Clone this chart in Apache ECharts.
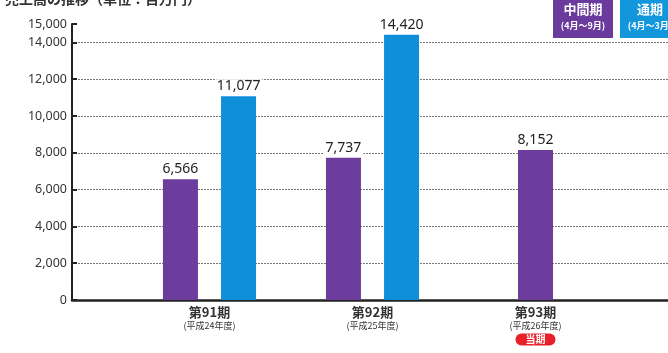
<!DOCTYPE html>
<html><head><meta charset="utf-8">
<style>html,body{margin:0;padding:0;background:#fff}#c{width:668px;height:353px}</style>
<script src="https://cdn.jsdelivr.net/npm/echarts@6/dist/echarts.min.js"></script>
</head><body><div id="c"></div>
<script>
const categories = ['第91期', '第92期', '第93期'];
const fiscalYears = ['(平成24年度)', '(平成25年度)', '(平成26年度)'];
const interimValues = [6566, 7737, null];
const fullYearValues = [11077, 14420, null];
const currentInterim = [null, null, 8152];
const yTicks = [0, 2000, 4000, 6000, 8000, 10000, 12000, 14000, 15000];

const PURPLE = '#6c3d9c';
const BLUE = '#0f8fd9';
const FONT = '"Noto Sans CJK JP","Noto Sans",sans-serif';
const fmt = v => v == null ? '' : v.toLocaleString('en-US');

const chart = echarts.init(document.getElementById('c'));
const labelCfg = {
  show: true, position: 'top', distance: 3,
  color: '#222', fontSize: 14, fontFamily: '"Noto Sans",sans-serif',
  backgroundColor: '#fff', padding: [0, 2],
  formatter: p => fmt(p.value)
};
chart.setOption({
  animation: false,
  title: {
    text: '売上高の推移（単位：百万円）', left: 0, top: -13,
    textStyle: { fontSize: 14, fontWeight: 'bold', color: '#333', fontFamily: FONT }
  },
  grid: [
    { left: 72, right: -10, top: 24, bottom: 53 },
    { left: 128, width: 489, top: 24, bottom: 53 }
  ],
  xAxis: [
    { gridIndex: 0, type: 'value', min: 0, max: 1, axisLabel: { show: false }, axisTick: { show: false },
      splitLine: { show: false }, axisLine: { show: true, lineStyle: { color: '#222', width: 2.5 } } },
    { gridIndex: 1, type: 'category', data: categories, axisLine: { show: false }, axisTick: { show: false },
      axisLabel: {
        margin: 4, interval: 0,
        formatter: (v, i) => '{a|' + v + '}\n{b|' + fiscalYears[i] + '}' + (i === 2 ? '\n{c|当期}' : ''),
        rich: {
          a: { fontSize: 13, fontWeight: 'bold', color: '#333', fontFamily: FONT, lineHeight: 16 },
          b: { fontSize: 9, color: '#333', fontFamily: FONT, lineHeight: 12 },
          c: { fontSize: 10, fontWeight: 'bold', color: '#fff', backgroundColor: '#e8202a', borderRadius: 6,
               padding: [1, 10], fontFamily: FONT, lineHeight: 15 }
        }
      } },
    { gridIndex: 1, type: 'category', data: categories, show: false }
  ],
  yAxis: [
    { gridIndex: 0, type: 'value', min: 0, max: 15000, interval: 2000,
      axisLine: { show: true, lineStyle: { color: '#222', width: 2 } },
      axisTick: { show: true, inside: true, length: 5, lineStyle: { color: '#222', width: 2 } },
      axisLabel: { color: '#333', fontSize: 12.5, fontFamily: '"Noto Sans",sans-serif', margin: 5,
                   formatter: v => yTicks.includes(v) ? fmt(v) : '' },
      splitLine: { show: true, showMinLine: false, showMaxLine: false,
                   lineStyle: { color: '#777', type: [2, 1], width: 1 } } },
    { gridIndex: 1, type: 'value', min: 0, max: 15000, interval: 2000, show: false, splitLine: { show: false } }
  ],
  series: [
    { type: 'bar', xAxisIndex: 1, yAxisIndex: 1, data: interimValues, barWidth: 35, barGap: '66%',
      itemStyle: { color: PURPLE }, label: labelCfg, z: 3 },
    { type: 'bar', xAxisIndex: 1, yAxisIndex: 1, data: fullYearValues, barWidth: 35, barGap: '66%',
      itemStyle: { color: BLUE }, label: labelCfg, z: 3 },
    { type: 'bar', xAxisIndex: 2, yAxisIndex: 1, data: currentInterim, barWidth: 35,
      itemStyle: { color: PURPLE }, label: labelCfg, z: 3 }
  ],
  graphic: [
    { type: 'group', left: 553, top: -4, children: [
      { type: 'rect', shape: { x: 0, y: 0, width: 60, height: 42 }, style: { fill: '#6a3a9c' } },
      { type: 'text', style: { x: 30, y: 7, text: '中間期', align: 'center', fill: '#fff', font: 'bold 13px ' + FONT } },
      { type: 'text', style: { x: 30, y: 25, text: '(4月～9月)', align: 'center', fill: '#fff', font: 'bold 9px ' + FONT } }
    ] },
    { type: 'group', left: 620, top: -4, children: [
      { type: 'rect', shape: { x: 0, y: 0, width: 60, height: 42 }, style: { fill: '#1296dc' } },
      { type: 'text', style: { x: 30, y: 7, text: '通期', align: 'center', fill: '#fff', font: 'bold 13px ' + FONT } },
      { type: 'text', style: { x: 30, y: 25, text: '(4月～3月)', align: 'center', fill: '#fff', font: 'bold 9px ' + FONT } }
    ] }
  ]
});
</script></body></html>
